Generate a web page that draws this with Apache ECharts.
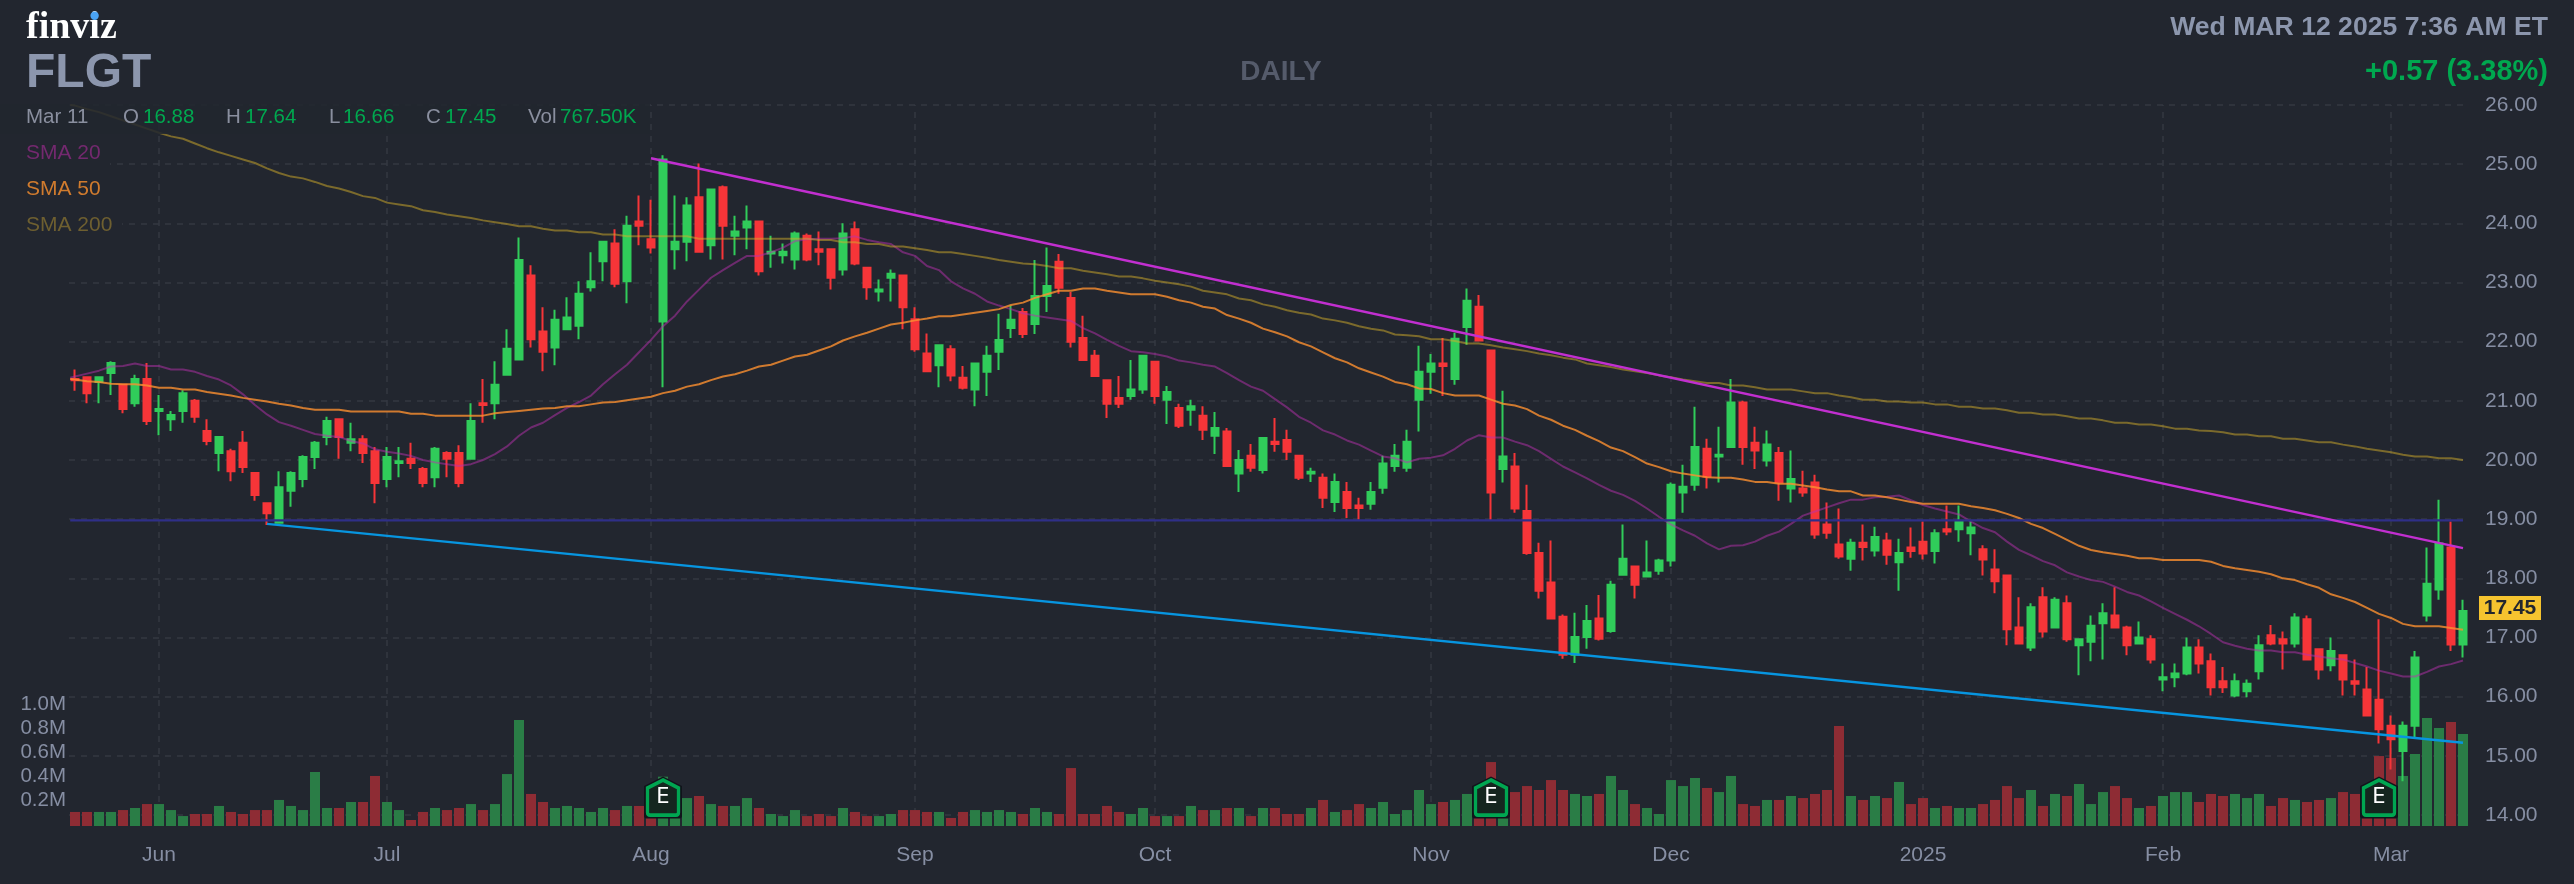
<!DOCTYPE html>
<html><head><meta charset="utf-8"><title>FLGT</title>
<style>html,body{margin:0;padding:0;background:#22262f}#c{width:2574px;height:884px}</style>
<script src="https://cdn.jsdelivr.net/npm/echarts@6/dist/echarts.min.js"></script>
</head><body><div id="c"></div>
<script>
const categories = [
"2024-05-22","2024-05-23","2024-05-24","2024-05-28","2024-05-29","2024-05-30","2024-05-31",
"2024-06-03","2024-06-04","2024-06-05","2024-06-06","2024-06-07","2024-06-10","2024-06-11","2024-06-12","2024-06-13","2024-06-14","2024-06-17","2024-06-18","2024-06-20","2024-06-21","2024-06-24","2024-06-25","2024-06-26","2024-06-27","2024-06-28",
"2024-07-01","2024-07-02","2024-07-03","2024-07-05","2024-07-08","2024-07-09","2024-07-10","2024-07-11","2024-07-12","2024-07-15","2024-07-16","2024-07-17","2024-07-18","2024-07-19","2024-07-22","2024-07-23","2024-07-24","2024-07-25","2024-07-26","2024-07-29","2024-07-30","2024-07-31",
"2024-08-01","2024-08-02","2024-08-05","2024-08-06","2024-08-07","2024-08-08","2024-08-09","2024-08-12","2024-08-13","2024-08-14","2024-08-15","2024-08-16","2024-08-19","2024-08-20","2024-08-21","2024-08-22","2024-08-23","2024-08-26","2024-08-27","2024-08-28","2024-08-29","2024-08-30",
"2024-09-03","2024-09-04","2024-09-05","2024-09-06","2024-09-09","2024-09-10","2024-09-11","2024-09-12","2024-09-13","2024-09-16","2024-09-17","2024-09-18","2024-09-19","2024-09-20","2024-09-23","2024-09-24","2024-09-25","2024-09-26","2024-09-27","2024-09-30",
"2024-10-01","2024-10-02","2024-10-03","2024-10-04","2024-10-07","2024-10-08","2024-10-09","2024-10-10","2024-10-11","2024-10-14","2024-10-15","2024-10-16","2024-10-17","2024-10-18","2024-10-21","2024-10-22","2024-10-23","2024-10-24","2024-10-25","2024-10-28","2024-10-29","2024-10-30","2024-10-31",
"2024-11-01","2024-11-04","2024-11-05","2024-11-06","2024-11-07","2024-11-08","2024-11-11","2024-11-12","2024-11-13","2024-11-14","2024-11-15","2024-11-18","2024-11-19","2024-11-20","2024-11-21","2024-11-22","2024-11-25","2024-11-26","2024-11-27","2024-11-29",
"2024-12-02","2024-12-03","2024-12-04","2024-12-05","2024-12-06","2024-12-09","2024-12-10","2024-12-11","2024-12-12","2024-12-13","2024-12-16","2024-12-17","2024-12-18","2024-12-19","2024-12-20","2024-12-23","2024-12-24","2024-12-26","2024-12-27","2024-12-30","2024-12-31",
"2025-01-02","2025-01-03","2025-01-06","2025-01-07","2025-01-08","2025-01-10","2025-01-13","2025-01-14","2025-01-15","2025-01-16","2025-01-17","2025-01-21","2025-01-22","2025-01-23","2025-01-24","2025-01-27","2025-01-28","2025-01-29","2025-01-30","2025-01-31",
"2025-02-03","2025-02-04","2025-02-05","2025-02-06","2025-02-07","2025-02-10","2025-02-11","2025-02-12","2025-02-13","2025-02-14","2025-02-18","2025-02-19","2025-02-20","2025-02-21","2025-02-24","2025-02-25","2025-02-26","2025-02-27","2025-02-28",
"2025-03-03","2025-03-04","2025-03-05","2025-03-06","2025-03-07","2025-03-10","2025-03-11"];

const opens = [
21.37,21.40,21.32,21.47,21.27,20.96,21.37,20.83,20.69,20.83,
21.00,20.49,20.12,20.15,20.29,19.78,19.27,18.94,19.48,19.68,
20.05,20.39,20.69,20.29,20.35,20.15,19.68,19.95,20.02,19.85,
19.71,20.12,20.12,20.02,20.96,20.96,21.44,21.70,23.12,22.17,
21.90,22.21,22.27,22.92,23.36,23.66,23.02,24.03,23.73,22.34,
23.56,23.69,24.44,23.63,24.61,23.79,23.93,24.03,23.49,23.46,
23.39,23.79,23.56,23.56,23.22,23.90,23.25,22.85,23.08,23.12,
22.38,21.80,21.60,21.87,21.39,21.19,21.49,21.83,22.23,22.50,
22.30,22.77,23.35,22.74,22.06,21.76,21.35,21.05,21.08,21.19,
21.66,21.02,20.88,20.85,20.75,20.41,20.48,19.77,20.07,19.83,
20.31,20.34,20.07,19.77,19.70,19.29,19.46,19.23,19.26,19.53,
19.90,19.87,21.02,21.49,21.63,21.37,22.25,22.59,21.85,19.85,
19.89,19.14,18.43,17.93,17.35,16.71,17.01,17.32,17.11,18.06,
18.20,18.03,18.13,18.30,19.45,19.58,20.19,20.06,20.22,20.97,
20.29,19.99,20.12,19.52,19.52,19.62,18.91,18.57,18.33,18.60,
18.47,18.64,18.27,18.52,18.62,18.46,18.83,18.83,18.76,18.49,
18.15,18.05,17.17,16.83,17.68,17.17,17.58,16.87,16.93,17.24,
17.37,17.17,16.90,16.97,16.29,16.33,16.39,16.83,16.60,16.26,
16.02,16.09,16.43,17.04,16.97,16.90,17.31,16.80,16.53,16.70,
16.26,16.12,15.95,15.51,15.08,15.51,17.37,17.81,18.52,16.88];

const highs = [
21.53,21.40,21.40,21.67,21.27,21.44,21.64,21.10,20.83,21.18,
21.03,20.69,20.39,20.19,20.49,19.78,19.27,19.81,19.81,20.08,
20.32,20.73,20.69,20.63,20.42,20.22,20.22,20.22,20.29,19.88,
20.22,20.15,20.25,20.96,21.37,21.67,22.21,23.76,23.29,22.58,
22.54,22.75,23.02,23.51,23.69,23.90,24.13,24.47,24.40,25.15,
24.47,24.44,25.01,24.57,24.64,24.13,24.30,24.03,23.79,23.66,
23.86,23.83,23.86,23.56,24.00,24.03,23.25,23.05,23.22,23.12,
22.58,22.14,21.94,21.94,21.59,21.63,21.93,22.47,22.61,22.57,
23.38,23.59,23.48,22.84,22.44,21.86,21.35,21.42,21.69,21.76,
21.66,21.25,20.95,21.02,20.91,20.81,20.54,20.17,20.27,20.37,
20.71,20.51,20.07,19.87,19.77,19.77,19.63,19.36,19.63,20.07,
20.27,20.51,21.93,21.79,22.06,22.15,22.90,22.79,21.85,21.17,
20.12,19.58,18.60,18.64,17.39,17.42,17.55,17.72,17.96,18.91,
18.20,18.64,18.33,19.62,19.92,20.90,20.36,20.56,21.37,21.00,
20.56,20.50,20.22,20.16,19.82,19.75,19.28,19.18,18.67,18.91,
18.87,18.77,18.67,18.86,18.96,18.83,19.23,19.23,18.96,18.56,
18.49,18.05,17.68,17.58,17.85,17.68,17.71,16.97,17.37,17.58,
17.85,17.20,17.27,17.04,16.56,16.56,17.00,16.97,16.73,16.50,
16.39,16.29,17.04,17.21,17.10,17.41,17.37,16.80,17.00,16.70,
16.63,16.50,17.31,15.68,15.58,16.77,18.52,19.33,18.96,17.64];

const lows = [
21.17,20.96,20.96,21.10,20.79,20.90,20.59,20.42,20.49,20.63,
20.63,20.25,19.81,19.64,19.78,19.31,18.90,18.94,19.21,19.54,
19.85,20.25,20.02,20.15,19.95,19.27,19.54,19.71,19.85,19.54,
19.54,19.71,19.54,20.02,20.63,20.69,21.44,21.70,21.90,21.50,
21.60,22.21,22.04,22.85,23.02,22.92,22.65,23.63,23.49,21.23,
23.22,23.36,23.52,23.39,23.39,23.46,23.56,23.12,23.25,23.32,
23.22,23.36,23.29,22.88,23.12,23.29,22.71,22.68,22.68,22.21,
21.83,21.50,21.23,21.33,21.19,20.91,21.08,21.52,22.06,22.06,
22.13,22.50,22.81,21.90,21.69,21.42,20.71,20.88,21.02,21.12,
20.95,20.61,20.54,20.58,20.34,20.10,19.90,19.46,19.80,19.77,
20.14,20.00,19.66,19.63,19.19,19.12,19.02,18.99,19.16,19.43,
19.80,19.80,20.48,21.12,21.08,21.27,21.95,22.02,18.97,19.62,
19.11,18.40,17.66,17.32,16.64,16.57,16.81,16.95,17.08,18.06,
17.66,18.03,18.06,18.20,19.11,19.48,19.52,19.62,20.22,19.92,
19.85,19.89,19.31,19.28,19.38,18.67,18.67,18.33,18.13,18.30,
18.37,18.23,17.79,18.35,18.32,18.25,18.73,18.62,18.39,18.05,
17.75,16.87,16.90,16.77,17.00,17.17,16.93,16.36,16.60,16.63,
17.17,16.70,16.90,16.56,16.09,16.16,16.36,16.39,16.02,16.06,
15.99,15.99,16.29,16.87,16.46,16.83,16.63,16.29,16.43,16.02,
16.02,15.68,15.21,14.77,14.57,15.31,17.27,17.64,16.77,16.66];

const closes = [
21.35,21.13,21.40,21.64,20.86,21.37,20.66,20.86,20.76,21.13,
20.73,20.32,20.39,19.81,19.88,19.41,19.10,19.54,19.78,20.05,
20.29,20.66,20.39,20.35,20.12,19.61,20.05,19.98,19.95,19.61,
20.19,20.02,19.61,20.66,20.93,21.27,21.88,23.38,22.04,21.83,
22.37,22.41,22.81,23.02,23.69,22.98,23.96,23.96,23.59,25.08,
23.69,24.30,23.52,24.57,23.96,23.86,24.03,23.19,23.52,23.52,
23.83,23.39,23.52,23.08,23.83,23.32,22.92,22.88,23.15,22.58,
21.87,21.50,21.94,21.43,21.22,21.63,21.76,22.03,22.37,22.13,
22.77,22.94,22.91,22.00,21.69,21.42,20.95,20.95,21.19,21.76,
21.08,21.15,20.58,20.91,20.51,20.54,19.90,20.00,19.87,20.37,
20.27,20.14,19.70,19.80,19.36,19.63,19.19,19.19,19.46,19.94,
20.07,20.31,21.49,21.63,21.59,22.05,22.69,22.02,19.45,20.06,
19.18,18.43,17.79,17.32,16.71,17.01,17.28,16.98,17.89,18.33,
17.89,18.10,18.30,19.58,19.55,20.22,19.72,20.09,20.97,20.22,
20.16,20.26,19.62,19.68,19.45,18.74,18.77,18.37,18.60,18.53,
18.70,18.40,18.43,18.46,18.42,18.76,18.79,18.96,18.86,18.32,
17.95,17.14,16.90,17.51,17.10,17.64,16.97,16.97,17.20,17.41,
17.17,16.87,17.00,16.63,16.33,16.39,16.83,16.56,16.16,16.16,
16.26,16.22,16.87,16.90,16.90,17.34,16.63,16.46,16.77,16.29,
16.22,15.68,15.45,15.28,15.51,16.66,17.91,18.59,16.88,17.45];

const volumesK = [
117,117,117,117,133,150,183,183,133,83,
100,100,167,117,100,133,133,217,167,133,
450,150,150,200,200,417,200,133,50,117,
150,133,150,183,133,183,433,883,267,200,
150,167,150,117,150,133,167,167,117,411,
183,233,250,183,167,167,233,150,100,83,
133,83,100,83,150,117,83,83,100,133,
133,117,117,67,117,133,117,133,117,100,
150,117,100,483,100,100,167,117,100,150,
83,83,83,167,133,133,150,150,83,150,
150,100,100,150,217,117,133,183,150,200,
100,133,300,183,200,217,267,267,533,217,
283,333,300,383,300,267,250,267,417,300,
183,150,100,383,333,400,317,283,417,183,
167,217,217,250,233,267,300,833,250,217,
250,233,367,183,233,150,167,150,150,183,
217,333,233,300,167,267,250,350,183,283,
333,233,150,167,250,283,283,200,267,250,
267,233,267,167,233,217,200,217,233,283,
267,283,583,567,417,600,900,817,867,767.5];

const sma20 = [
21.41,21.46,21.51,21.58,21.59,21.63,21.59,21.59,21.53,21.53,
21.49,21.42,21.36,21.26,21.11,20.93,20.77,20.64,20.58,20.51,
20.44,20.41,20.39,20.32,20.28,20.18,20.14,20.11,20.07,20.00,
19.96,19.93,19.90,19.93,20.00,20.10,20.23,20.41,20.55,20.63,
20.76,20.88,20.98,21.09,21.28,21.45,21.61,21.82,22.03,22.26,
22.44,22.68,22.88,23.08,23.21,23.33,23.45,23.45,23.51,23.59,
23.70,23.73,23.74,23.74,23.75,23.78,23.72,23.68,23.65,23.51,
23.45,23.28,23.21,23.02,22.90,22.81,22.68,22.61,22.55,22.48,
22.44,22.41,22.38,22.35,22.23,22.14,22.03,21.93,21.84,21.82,
21.79,21.75,21.68,21.65,21.61,21.58,21.47,21.35,21.24,21.17,
21.03,20.89,20.73,20.63,20.50,20.43,20.33,20.26,20.16,20.06,
20.03,19.96,20.02,20.04,20.08,20.19,20.33,20.42,20.38,20.38,
20.31,20.25,20.15,20.02,19.89,19.79,19.69,19.58,19.48,19.41,
19.31,19.18,19.04,18.91,18.81,18.72,18.59,18.49,18.55,18.56,
18.62,18.72,18.79,18.92,19.06,19.13,19.20,19.27,19.33,19.33,
19.37,19.38,19.40,19.32,19.24,19.18,19.13,19.08,18.96,18.85,
18.78,18.62,18.48,18.39,18.29,18.22,18.10,18.03,17.97,17.94,
17.86,17.77,17.71,17.61,17.50,17.40,17.30,17.19,17.06,16.92,
16.86,16.81,16.78,16.78,16.75,16.75,16.71,16.68,16.65,16.63,
16.57,16.51,16.44,16.39,16.34,16.34,16.42,16.51,16.55,16.61];

const sma50 = [
21.36,21.33,21.32,21.29,21.28,21.28,21.26,21.22,21.22,21.19,
21.19,21.15,21.12,21.09,21.05,21.02,20.99,20.95,20.92,20.88,
20.85,20.85,20.85,20.82,20.82,20.82,20.82,20.82,20.78,20.78,
20.75,20.75,20.75,20.75,20.75,20.79,20.81,20.83,20.85,20.87,
20.88,20.91,20.91,20.94,20.97,20.98,21.01,21.04,21.07,21.13,
21.17,21.24,21.28,21.35,21.41,21.45,21.51,21.58,21.61,21.68,
21.75,21.78,21.85,21.92,22.02,22.09,22.15,22.22,22.29,22.32,
22.36,22.39,22.43,22.43,22.46,22.49,22.52,22.55,22.62,22.66,
22.74,22.80,22.86,22.86,22.90,22.90,22.86,22.83,22.80,22.80,
22.80,22.76,22.70,22.66,22.59,22.56,22.45,22.39,22.32,22.22,
22.16,22.09,21.99,21.92,21.82,21.72,21.65,21.55,21.48,21.41,
21.32,21.28,21.21,21.20,21.13,21.09,21.09,21.09,21.02,20.95,
20.92,20.86,20.75,20.68,20.58,20.51,20.41,20.32,20.21,20.15,
20.05,19.94,19.88,19.81,19.77,19.74,19.71,19.70,19.70,19.67,
19.63,19.63,19.60,19.60,19.57,19.54,19.50,19.47,19.47,19.40,
19.40,19.37,19.33,19.29,19.26,19.26,19.26,19.26,19.22,19.19,
19.15,19.09,19.02,18.92,18.85,18.75,18.65,18.55,18.48,18.44,
18.41,18.38,18.34,18.34,18.31,18.31,18.31,18.31,18.28,18.21,
18.17,18.14,18.11,18.07,18.00,17.97,17.90,17.84,17.73,17.67,
17.60,17.50,17.40,17.33,17.23,17.19,17.19,17.19,17.16,17.13];

const sma200 = [
25.99,25.93,25.88,25.81,25.74,25.67,25.60,25.53,25.47,25.43,
25.35,25.27,25.20,25.14,25.08,25.02,24.93,24.85,24.79,24.76,
24.70,24.63,24.59,24.53,24.46,24.43,24.35,24.32,24.29,24.22,
24.19,24.15,24.12,24.09,24.05,24.02,23.99,23.95,23.95,23.91,
23.88,23.88,23.85,23.85,23.81,23.81,23.78,23.78,23.78,23.78,
23.78,23.78,23.74,23.74,23.74,23.74,23.74,23.74,23.74,23.74,
23.74,23.74,23.72,23.72,23.68,23.68,23.65,23.65,23.61,23.61,
23.58,23.55,23.51,23.51,23.48,23.45,23.42,23.38,23.35,23.32,
23.31,23.28,23.24,23.24,23.20,23.17,23.14,23.10,23.10,23.07,
23.03,23.00,22.97,22.93,22.86,22.83,22.80,22.73,22.70,22.63,
22.59,22.53,22.49,22.46,22.39,22.36,22.32,22.26,22.22,22.19,
22.12,22.11,22.09,22.04,22.04,22.01,21.97,21.97,21.94,21.90,
21.87,21.84,21.80,21.77,21.73,21.70,21.63,21.60,21.57,21.53,
21.50,21.47,21.43,21.40,21.36,21.33,21.30,21.30,21.26,21.26,
21.23,21.19,21.19,21.19,21.16,21.13,21.13,21.09,21.06,21.02,
21.02,20.99,20.99,20.97,20.97,20.94,20.94,20.90,20.90,20.87,
20.87,20.84,20.80,20.80,20.77,20.77,20.74,20.70,20.70,20.67,
20.63,20.63,20.60,20.60,20.57,20.53,20.53,20.50,20.49,20.47,
20.43,20.43,20.40,20.40,20.36,20.36,20.33,20.30,20.30,20.26,
20.23,20.19,20.16,20.13,20.09,20.06,20.06,20.03,20.03,20.00];

const smaStarts = [21.39, 21.37, 26.00];
const resistanceLine = [[48, 25.10], [199, 18.51]];
const supportLine = [[16, 18.92], [199, 15.22]];
const horizontalLevel = 18.98;
const monthTickIndexes = [7, 26, 48, 70, 90, 113, 133, 154, 174, 193];
const monthTickLabels = ["Jun", "Jul", "Aug", "Sep", "Oct", "Nov", "Dec", "2025", "Feb", "Mar"];
const earningsIndexes = [49, 118, 192];
const earningsLevelK = 237;
const ticker = "FLGT", stamp = "Wed MAR 12 2025 7:36 AM ET", change = "+0.57 (3.38%)", period = "DAILY";
const lastDateLabel = "Mar 11", lastVolumeLabel = "767.50K";

const BG = "#22262f", GRID = "#343842", AXIS = "#868ea3", UP = "#30cc5a", DOWN = "#f63538",
      UPV = "#2a7d46", DOWNV = "#8e2c34", GREEN = "#00a84f", SANS = '"Liberation Sans", Arial, sans-serif';
const last = closes.length - 1;
const pairs = (arr, s) => [[-0.4, s]].concat(arr.map((v, i) => [i, v]));
const isUp = i => closes[i] > opens[i];
const dash = { type: [6, 6], color: GRID, width: 1.5 };
const HOUSE = "path://M18 0 L36 9 V37 Q36 40 33 40 H3 Q0 40 0 37 V9 Z";

const smaLine = (name, data, color, opacity) => ({
  type: "line", name, data, xAxisIndex: 2, yAxisIndex: 0, showSymbol: false, silent: true, z: 4,
  lineStyle: { color, width: 2, opacity }, animation: false
});
const straight = (name, data, color, z) => ({
  type: "line", name, data, xAxisIndex: 2, yAxisIndex: 0, showSymbol: false, silent: true, z,
  lineStyle: { color, width: 2.4 }, animation: false
});

const txt = (text, x, y, font, fill, align) => ({
  type: "text", x, y, z: 101, silent: true,
  style: { text, font, fill, align: align || "left", verticalAlign: "middle" }
});
const mask = (x, y, width, height, opacity) => ({
  type: "rect", z: 100, silent: true, shape: { x, y, width, height }, style: { fill: BG, opacity }
});
const ohlcFont = "20.5px " + SANS, grey = "#8a8f9f";

const option = {
  backgroundColor: BG, animation: false,
  grid: [
    { left: 69, top: 105, width: 2400, height: 710 },
    { left: 69, top: 706, width: 2400, height: 120 },
    { left: 69, top: 105, width: 2400, height: 721 }
  ],
  xAxis: [
    { type: "category", gridIndex: 0, data: categories, show: false },
    { type: "category", gridIndex: 1, data: categories,
      axisLine: { show: false }, axisTick: { show: false }, splitLine: { show: false },
      axisLabel: { color: AXIS, fontSize: 21, fontFamily: SANS, margin: 19, hideOverlap: false,
        interval: i => monthTickIndexes.includes(i),
        formatter: (v, i) => monthTickLabels[monthTickIndexes.indexOf(i)] || "" } },
    { type: "value", gridIndex: 0, min: -0.5, max: 199.5, show: false },
    { type: "value", gridIndex: 2, min: -0.5, max: 199.5, show: false }
  ],
  yAxis: [
    { type: "value", gridIndex: 0, min: 14, max: 26, interval: 1, position: "right",
      axisLine: { show: false }, axisTick: { show: false }, splitLine: { lineStyle: dash },
      axisLabel: { color: AXIS, fontSize: 21, fontFamily: SANS, margin: 16,
        formatter: v => v.toFixed(2) } },
    { type: "value", gridIndex: 1, min: 0, max: 1000, interval: 200, position: "left",
      axisLine: { show: false }, axisTick: { show: false }, splitLine: { show: false },
      axisLabel: { color: AXIS, fontSize: 20.5, fontFamily: SANS, margin: 3,
        verticalAlign: "bottom", lineHeight: 4,
        formatter: v => v === 0 ? "" : (v / 1000).toFixed(1) + "M" } },
    { type: "value", gridIndex: 2, min: 0, max: 1, show: false }
  ],
  series: [
    { type: "line", name: "month grid", data: [], xAxisIndex: 3, yAxisIndex: 2, silent: true, z: 0,
      markLine: { z: 0, silent: true, symbol: "none", label: { show: false }, animation: false, lineStyle: dash,
        data: monthTickIndexes.map(i => ({ xAxis: i })) } },
    { type: "bar", name: "Volume", xAxisIndex: 1, yAxisIndex: 1, barWidth: 10, silent: true, z: 1,
      data: volumesK.map((v, i) => ({ value: v, itemStyle: { color: isUp(i) ? UPV : DOWNV } })) },
    { type: "candlestick", name: ticker, xAxisIndex: 0, yAxisIndex: 0, barWidth: 8, silent: true, z: 3,
      data: opens.map((o, i) => [o, closes[i], lows[i], highs[i]]),
      itemStyle: { color: UP, color0: DOWN, borderColor: UP, borderColor0: DOWN, borderWidth: 2 } },
    smaLine("SMA 20", pairs(sma20, smaStarts[0]), "#b830ad", 0.5),
    smaLine("SMA 50", pairs(sma50, smaStarts[1]), "#fd9030", 0.8),
    smaLine("SMA 200", pairs(sma200, smaStarts[2]), "#d4ae29", 0.5),
    straight("Level", [[-0.4, horizontalLevel], [last, horizontalLevel]], "#2f2f88", 4),
    straight("Resistance", resistanceLine, "#c22fd0", 5),
    straight("Support", supportLine, "#0795e0", 5),
    { type: "scatter", name: "E outline", xAxisIndex: 1, yAxisIndex: 1, silent: true, z: 6, clip: false,
      symbol: HOUSE, symbolSize: [38, 42],
      data: earningsIndexes.map(i => [i, earningsLevelK]), itemStyle: { color: "#11141b", opacity: 1 } },
    { type: "scatter", name: "Earnings", xAxisIndex: 1, yAxisIndex: 1, silent: true, z: 7, clip: false,
      symbol: HOUSE, symbolSize: [31, 35],
      data: earningsIndexes.map(i => [i, earningsLevelK]),
      itemStyle: { color: "#15261f", borderColor: "#00a651", borderWidth: 3.5, opacity: 1 },
      label: { show: true, position: "inside", formatter: "E", color: "#ffffff", fontSize: 21,
        fontFamily: "DejaVu Sans", padding: [5, 0, 0, 0] } },
    { type: "scatter", name: "Last", xAxisIndex: 2, yAxisIndex: 0, silent: true, z: 8, clip: false,
      symbol: "rect", symbolSize: [62, 24], symbolOffset: [47, -3],
      data: [[last, closes[last]]], itemStyle: { color: "#f6c42f", opacity: 1 },
      label: { show: true, position: "inside", color: "#22262f", fontSize: 21, fontWeight: "bold", fontFamily: SANS,
        formatter: p => p.value[1].toFixed(2) } }
  ],
  graphic: { elements: [
    mask(0, 104, 650, 30, 0.86),
    mask(0, 139, 110, 28, 1),
    mask(0, 211, 122, 28, 1),
    txt("finviz", 26, 28, 'bold 38px "Liberation Serif", serif', "#ffffff"),
    { type: "circle", z: 102, silent: true, shape: { cx: 94.6, cy: 15.7, r: 4.2 }, style: { fill: "#4aa3f5" } },
    txt(ticker, 26, 74, "bold 48px " + SANS, "#8c96ad"),
    txt(stamp, 2548, 28, "bold 26.6px " + SANS, "#8c96ad", "right"),
    txt(change, 2548, 72, "bold 29px " + SANS, "#00a84f", "right"),
    txt(period, 1281, 72, "bold 28px " + SANS, "#555b6b", "center"),
    txt(lastDateLabel, 26, 117, ohlcFont, grey),
    txt("O", 123, 117, ohlcFont, grey), txt(opens[last].toFixed(2), 143, 117, ohlcFont, GREEN),
    txt("H", 226, 117, ohlcFont, grey), txt(highs[last].toFixed(2), 245, 117, ohlcFont, GREEN),
    txt("L", 329, 117, ohlcFont, grey), txt(lows[last].toFixed(2), 343, 117, ohlcFont, GREEN),
    txt("C", 426, 117, ohlcFont, grey), txt(closes[last].toFixed(2), 445, 117, ohlcFont, GREEN),
    txt("Vol", 528, 117, ohlcFont, grey), txt(lastVolumeLabel, 560, 117, ohlcFont, GREEN),
    txt("SMA 20", 26, 153, "21px " + SANS, "#74296f"),
    txt("SMA 50", 26, 189, "21px " + SANS, "#d07b2e"),
    txt("SMA 200", 26, 225, "21px " + SANS, "#6e5f30")
  ] }
};
const chart = echarts.init(document.getElementById("c"), null, { renderer: "canvas", width: 2574, height: 884 });
chart.setOption(option);
</script></body></html>
